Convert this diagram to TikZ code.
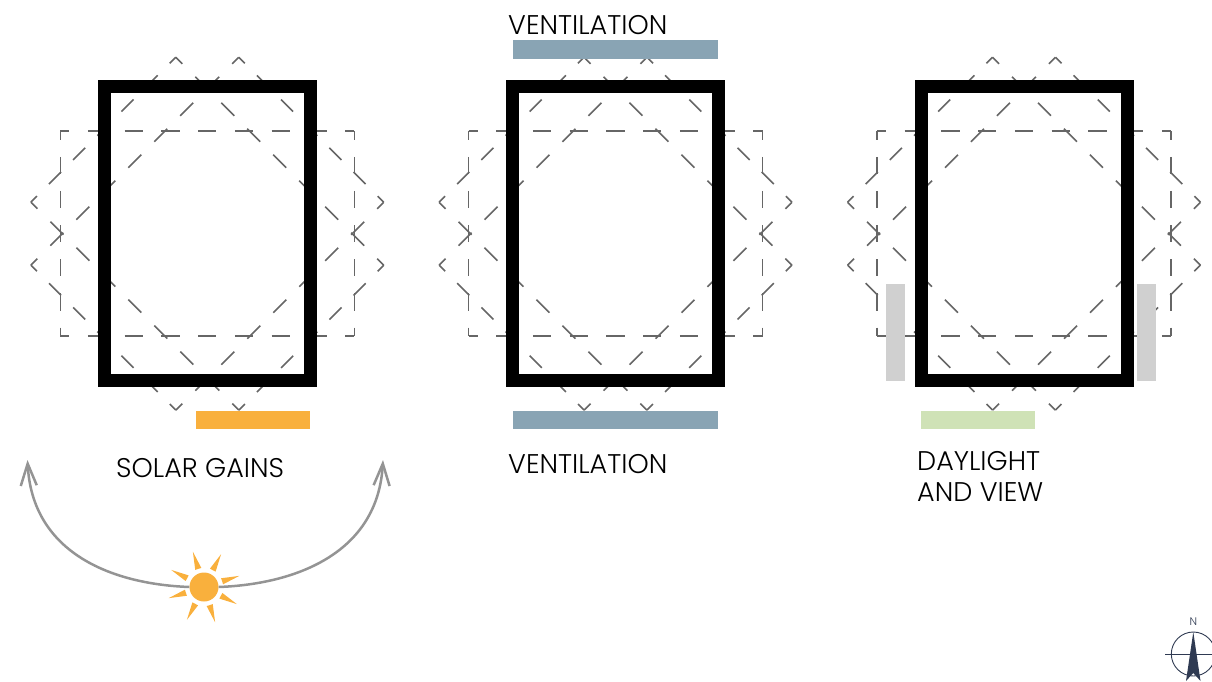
\documentclass[tikz,border=0pt]{standalone}
\usepackage{fontspec}
\setmainfont{Poppins}[UprightFont=* Light]
\usetikzlibrary{arrows.meta}
\definecolor{solarorange}{HTML}{F9B03D}
\definecolor{ventblue}{HTML}{89A4B4}
\definecolor{viewgreen}{HTML}{CFE2B6}
\definecolor{wallgray}{HTML}{D0D0D0}
\definecolor{dashgray}{HTML}{666666}
\definecolor{northblue}{HTML}{2F3A52}
\tikzset{
  planedge/.style={dashgray,line width=1.6pt,dash pattern=on #1 off #1,dash phase=#1/2},
  planlabel/.style={anchor=west,inner sep=0pt,font=\fontsize{27}{27}\selectfont},
  sunpath/.style={line width=2.5pt,color=black!42,-{Straight Barb[length=22pt,width=16pt]}}
}
\newcommand{\roomplan}[1]{
  \begin{scope}[shift={(#1,233.7)}]
    \foreach \a in {0,45,-45} {
      \begin{scope}[rotate=\a]
        \draw[planedge=18.37pt] (-147,-102.5) -- (147,-102.5);
        \draw[planedge=18.37pt] (-147,102.5) -- (147,102.5);
        \draw[planedge=17.08pt] (-147,-102.5) -- (-147,102.5);
        \draw[planedge=17.08pt] (147,-102.5) -- (147,102.5);
      \end{scope}
    }
    \draw[line width=13pt] (-103,-146.7) rectangle (103,146.7);
  \end{scope}
}
\begin{document}
\begin{tikzpicture}[x=1pt,y=-1pt]
\useasboundingbox (0,0) rectangle (1212,682);
\roomplan{207.3}
\roomplan{615.5}
\roomplan{1024}
\fill[solarorange] (196,411) rectangle (310,429);
\fill[ventblue] (513,40) rectangle (718,59);
\fill[ventblue] (513,411) rectangle (718,429);
\fill[viewgreen] (921,411) rectangle (1035,429);
\fill[wallgray] (886,284) rectangle (904.5,381);
\fill[wallgray] (1137,284) rectangle (1156,381);
\node[planlabel] (solar) at (116,468) {SOLAR GAINS};
\node[planlabel] (venttop) at (508,25) {VENTILATION};
\node[planlabel] (ventbottom) at (508,464) {VENTILATION};
\node[planlabel] (daylight) at (917,461) {DAYLIGHT};
\node[planlabel] (view) at (917,492) {AND VIEW};
\coordinate (sunleft) at (27.5,460);
\coordinate (sunright) at (383,460);
\node[circle,fill=solarorange,minimum size=29pt,inner sep=0pt] (sun) at (204,587) {};
\draw[sunpath] (sun.west) .. controls (110,584) and (32,552) .. (sunleft);
\draw[sunpath] (sun.east) .. controls (298,584) and (378,552) .. (sunright);
\foreach \a in {17.5,62.5,...,332.5} {
  \fill[solarorange,shift={(204,587)},rotate=\a] (19,-3.2) -- (37,0) -- (19,3.2) -- cycle;
}
\coordinate (north) at (1193.3,654);
\draw[northblue,line width=0.9pt] (north) circle (22);
\draw[northblue,line width=0.9pt] (1165,654) -- (1212,654);
\fill[northblue] (1193.3,632) -- (1200.5,681) -- (1193.3,673) -- (1186,681) -- cycle;
\node[inner sep=0pt,text=northblue,font=\fontsize{11}{11}\selectfont] (northlabel) at (1193.3,622) {N};
\end{tikzpicture}
\end{document}
